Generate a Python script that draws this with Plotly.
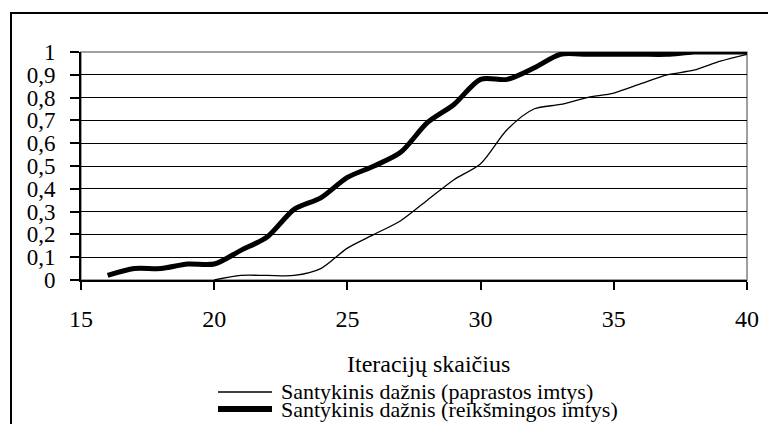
import plotly.graph_objects as go

# Data
iter_simple = [20, 21, 22, 23, 24, 25, 26, 27, 28, 29, 30, 31, 32, 33, 34, 35, 36, 37, 38, 39, 40]
freq_simple = [0.0, 0.02, 0.02, 0.02, 0.05, 0.14, 0.20, 0.26, 0.35, 0.44, 0.51, 0.66, 0.75, 0.77, 0.80, 0.82, 0.86, 0.90, 0.92, 0.96, 0.99]

iter_sig = [16, 17, 18, 19, 20, 21, 22, 23, 24, 25, 26, 27, 28, 29, 30, 31, 32, 33, 34, 35, 36, 37, 38, 39, 40]
freq_sig = [0.02, 0.05, 0.05, 0.07, 0.07, 0.13, 0.19, 0.31, 0.36, 0.45, 0.50, 0.56, 0.69, 0.77, 0.88, 0.88, 0.93, 0.99, 0.99, 0.99, 0.99, 0.99, 1.0, 1.0, 1.0]

name_simple = "Santykinis dažnis (paprastos imtys)"
name_sig = "Santykinis dažnis (reikšmingos imtys)"
x_title = "Iteracijų skaičius"

y_tickvals = [0, 0.1, 0.2, 0.3, 0.4, 0.5, 0.6, 0.7, 0.8, 0.9, 1.0]
y_ticktext = ["0", "0,1", "0,2", "0,3", "0,4", "0,5", "0,6", "0,7", "0,8", "0,9", "1"]
x_tickvals = [15, 20, 25, 30, 35, 40]

FONT = "Liberation Serif"

# geometry helpers (plot area in pixels)
L, R, T, B = 81, 747, 52, 280
def px(xp):
    return (xp - L) / (R - L)
def py(yp):
    return (B - yp) / (B - T)

fig = go.Figure()
fig.add_trace(go.Scatter(x=iter_simple, y=freq_simple, mode="lines", name=name_simple,
                         line=dict(color="black", width=1.3, shape="spline", smoothing=0.8),
                         showlegend=False))
fig.add_trace(go.Scatter(x=iter_sig, y=freq_sig, mode="lines", name=name_sig,
                         line=dict(color="black", width=5, shape="spline", smoothing=0.8),
                         showlegend=False))

shapes = [
    # outer chart frame
    dict(type="rect", xref="paper", yref="paper", x0=px(11), x1=px(790), y0=py(440), y1=py(13),
         line=dict(color="black", width=2), fillcolor="rgba(0,0,0,0)", layer="below"),
    # plot area border (grey)
    dict(type="rect", xref="paper", yref="paper", x0=0, x1=1, y0=0, y1=1,
         line=dict(color="#808080", width=1.5), fillcolor="rgba(0,0,0,0)", layer="between"),
    # legend keys
    dict(type="line", xref="paper", yref="paper", x0=px(218), x1=px(272), y0=py(392), y1=py(392),
         line=dict(color="black", width=1.3)),
    dict(type="line", xref="paper", yref="paper", x0=px(218), x1=px(272), y0=py(409), y1=py(409),
         line=dict(color="black", width=6)),
]

annotations = [
    dict(text=x_title, xref="paper", yref="paper", x=px(428), y=py(364), xanchor="center",
         yanchor="middle", showarrow=False, font=dict(family=FONT, size=24, color="black")),
    dict(text=name_simple, xref="paper", yref="paper", x=px(279), y=py(391), xanchor="left",
         yanchor="middle", showarrow=False, font=dict(family=FONT, size=22, color="black")),
    dict(text=name_sig, xref="paper", yref="paper", x=px(279), y=py(409), xanchor="left",
         yanchor="middle", showarrow=False, font=dict(family=FONT, size=22, color="black")),
]

fig.update_layout(
    width=768, height=424,
    margin=dict(l=L, r=768 - R, t=T, b=424 - B, pad=0),
    paper_bgcolor="white", plot_bgcolor="white",
    font=dict(family=FONT, color="black"),
    shapes=shapes, annotations=annotations,
    showlegend=False,
)
fig.update_xaxes(range=[15, 40], tickvals=x_tickvals, ticks="outside", ticklen=8, tickwidth=2,
                 tickcolor="black", showline=True, linecolor="black", linewidth=2,
                 showgrid=False, zeroline=False, tickfont=dict(family=FONT, size=24, color="black"),
                 ticklabelstandoff=8, automargin=False)
fig.update_yaxes(range=[0, 1], tickvals=y_tickvals, ticktext=y_ticktext, ticks="outside",
                 ticklen=9, tickwidth=2, tickcolor="black", showline=True, linecolor="black",
                 linewidth=2, showgrid=True, gridcolor="black", gridwidth=1, zeroline=False,
                 tickfont=dict(family=FONT, size=23, color="black"), ticklabelstandoff=10,
                 automargin=False)

fig.write_html("out.html", config={"displayModeBar": False},
               post_script="document.body.style.margin='0';")
